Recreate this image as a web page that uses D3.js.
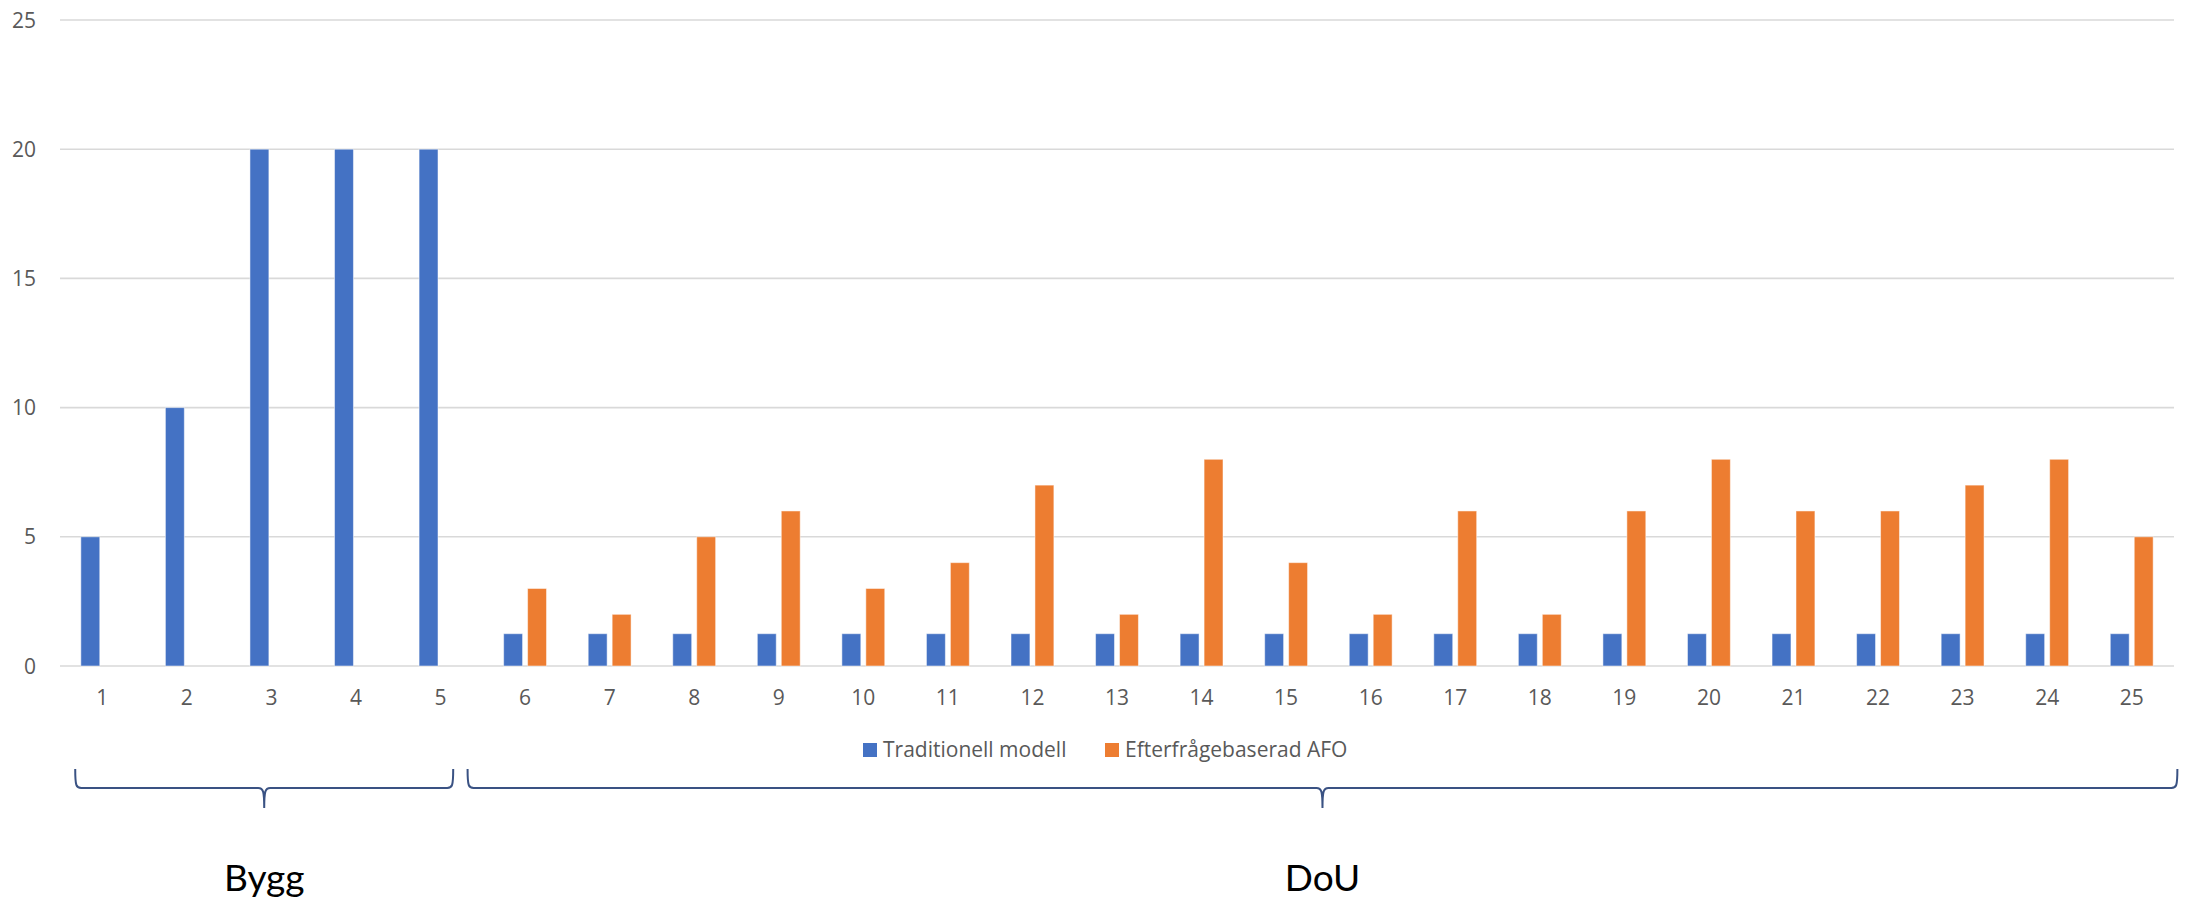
<!DOCTYPE html>
<html>
<head>
<meta charset="utf-8">
<script src="https://cdn.jsdelivr.net/npm/d3@7"></script>
<style>
  html, body { margin: 0; padding: 0; background: #fff; }
  svg { display: block; }
</style>
</head>
<body>
<div id="chart"></div>
<script>
// data
const categories = d3.range(1, 26).map(String);
const seriesNames = ['Traditionell modell', 'Efterfrågebaserad AFO'];
const traditionell = [5, 10, 20, 20, 20, 1.25, 1.25, 1.25, 1.25, 1.25, 1.25, 1.25, 1.25,
  1.25, 1.25, 1.25, 1.25, 1.25, 1.25, 1.25, 1.25, 1.25, 1.25, 1.25, 1.25];
const afo = [0, 0, 0, 0, 0, 3, 2, 5, 6, 3, 4, 7, 2, 8, 4, 2, 6, 2, 6, 8, 6, 6, 7, 8, 5];
const yTicks = [0, 5, 10, 15, 20, 25];

// brace groups below the axis (in category units, 0 = left edge of first band)
const braceLabels = ['Bygg', 'DoU'];
const braceStart = [0.18, 4.82];
const braceEnd = [4.65, 25.04];

const width = 2186;
const height = 904;
const margin = { top: 20, right: 12, bottom: 238, left: 60 };
const colors = ['#4472C4', '#ED7D31'];
const tickFont = '"Open Sans", "Noto Sans", sans-serif';

const svg = d3.select('#chart')
  .append('svg')
  .attr('width', width)
  .attr('height', height);

const x0 = d3.scaleBand()
  .domain(categories)
  .range([margin.left, width - margin.right])
  .padding(0);

const x1 = d3.scaleBand()
  .domain(seriesNames)
  .range([0, x0.bandwidth()])
  .paddingInner(0.21)
  .paddingOuter(0.87);

const y = d3.scaleLinear()
  .domain([0, 25])
  .range([height - margin.bottom, margin.top]);

// gridlines
svg.append('g')
  .selectAll('line')
  .data(yTicks)
  .join('line')
  .attr('x1', margin.left)
  .attr('x2', width - margin.right)
  .attr('y1', (d) => y(d))
  .attr('y2', (d) => y(d))
  .attr('stroke', '#D9D9D9')
  .attr('stroke-width', 1.6);

// y tick labels
svg.append('g')
  .selectAll('text')
  .data(yTicks)
  .join('text')
  .attr('x', 36)
  .attr('y', (d) => y(d) + 7.5)
  .attr('text-anchor', 'end')
  .attr('font-family', tickFont)
  .attr('font-size', 21)
  .attr('fill', '#595959')
  .text((d) => d);

// bars
const rows = categories.map((c, i) => ({ cat: c, values: [traditionell[i], afo[i]] }));

svg.append('g')
  .selectAll('g')
  .data(rows)
  .join('g')
  .attr('transform', (d) => `translate(${x0(d.cat)},0)`)
  .selectAll('rect')
  .data((d) => d.values.map((v, k) => ({ name: seriesNames[k], k, v })))
  .join('rect')
  .attr('x', (d) => x1(d.name))
  .attr('width', x1.bandwidth())
  .attr('y', (d) => y(d.v))
  .attr('height', (d) => y(0) - y(d.v))
  .attr('fill', (d) => colors[d.k])
  .attr('stroke', (d) => (d.v > 0 ? '#fff' : 'none'))
  .attr('stroke-opacity', 0.5)
  .attr('stroke-width', 1);

// x tick labels
svg.append('g')
  .selectAll('text')
  .data(categories)
  .join('text')
  .attr('x', (d) => x0(d) + x0.bandwidth() / 2)
  .attr('y', y(0) + 39)
  .attr('text-anchor', 'middle')
  .attr('font-family', tickFont)
  .attr('font-size', 21)
  .attr('fill', '#595959')
  .text((d) => d);

// legend
const legendX = [863, 1105];
const legend = svg.append('g')
  .selectAll('g')
  .data(seriesNames)
  .join('g')
  .attr('transform', (d, i) => `translate(${legendX[i]},743)`);
legend.append('rect')
  .attr('width', 14)
  .attr('height', 14)
  .attr('fill', (d, i) => colors[i]);
legend.append('text')
  .attr('x', 20)
  .attr('y', 14)
  .attr('font-family', tickFont)
  .attr('font-size', 21)
  .attr('fill', '#595959')
  .text((d) => d);

// braces
const xi = d3.scaleLinear()
  .domain([0, categories.length])
  .range([margin.left, width - margin.right]);

const braceTop = 769;
const braceLine = 788;
const braceTip = 808;

function bracePath(a, b) {
  const m = (a + b) / 2;
  const p = d3.path();
  p.moveTo(a, braceTop);
  p.bezierCurveTo(a, braceLine - 2, a + 1, braceLine, a + 6, braceLine);
  p.lineTo(m - 6, braceLine);
  p.bezierCurveTo(m - 1, braceLine, m, braceLine + 3, m, braceTip);
  p.moveTo(m, braceTip);
  p.bezierCurveTo(m, braceLine + 3, m + 1, braceLine, m + 6, braceLine);
  p.lineTo(b - 6, braceLine);
  p.bezierCurveTo(b - 1, braceLine, b, braceLine - 2, b, braceTop);
  return p.toString();
}

const braces = svg.append('g')
  .selectAll('g')
  .data(braceLabels)
  .join('g');
braces.append('path')
  .attr('d', (d, i) => bracePath(xi(braceStart[i]), xi(braceEnd[i])))
  .attr('fill', 'none')
  .attr('stroke', '#3A5283')
  .attr('stroke-width', 2);
braces.append('text')
  .attr('x', (d, i) => (xi(braceStart[i]) + xi(braceEnd[i])) / 2)
  .attr('y', 891)
  .attr('text-anchor', 'middle')
  .attr('font-family', 'Lato, "Open Sans", sans-serif')
  .attr('font-size', 37)
  .attr('fill', '#000')
  .text((d) => d);
</script>
</body>
</html>
